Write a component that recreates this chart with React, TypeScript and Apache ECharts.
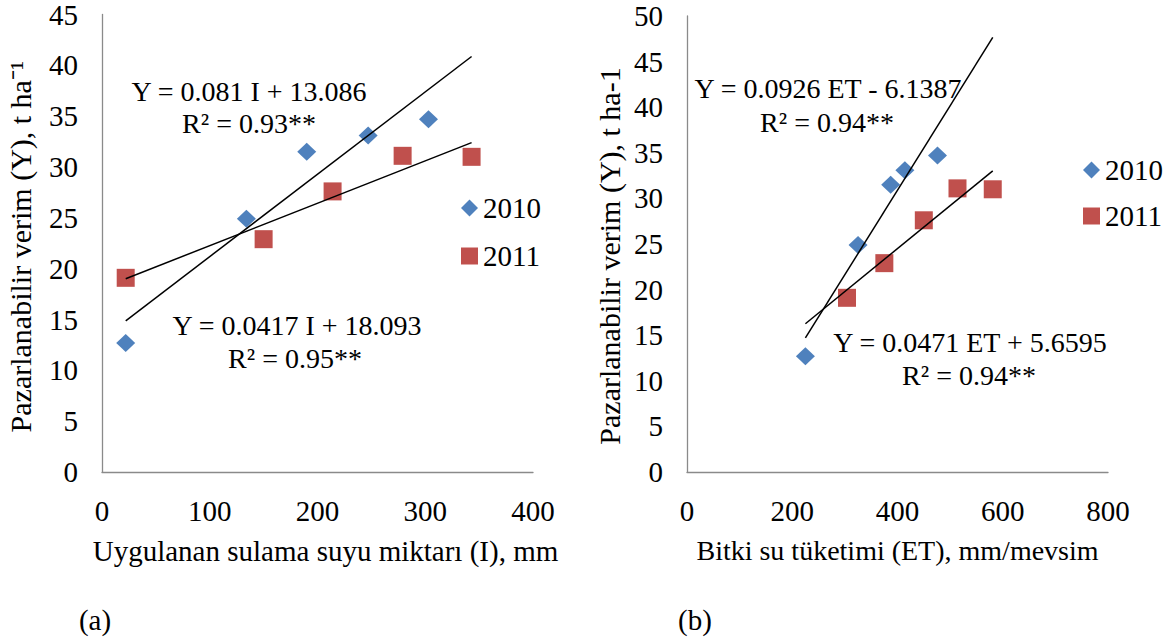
import React, { useEffect, useRef } from "react";
import * as echarts from "echarts";

// ---- data ----
const years = ["2010", "2011"];
// (a) applied irrigation water I (mm) vs marketable yield
const irr2010 = [22, 134, 190, 247, 303];
const irr2011 = [22, 150, 214, 279, 343];
// (b) crop evapotranspiration ET (mm/season)
const et2010 = [225, 325, 387, 414, 476];
const et2011 = [304, 375, 450, 514, 581];
// yields (t/ha)
const yield2010 = [12.7, 24.9, 31.5, 33.1, 34.7];
const yield2011 = [19.1, 22.9, 27.6, 31.1, 31.0];
// regression coefficients [slope, intercept]
const fitA2010 = [0.081, 13.086];
const fitA2011 = [0.0417, 18.093];
const fitB2010 = [0.0926, -6.1387];
const fitB2011 = [0.0471, 5.6595];
const eqA = ["Y = 0.081 I + 13.086", "R² = 0.93**", "Y = 0.0417 I + 18.093", "R² = 0.95**"];
const eqB = ["Y = 0.0926 ET - 6.1387", "R² = 0.94**", "Y = 0.0471 ET + 5.6595", "R² = 0.94**"];
const panelLabels = ["(a)", "(b)"];

const FONT = "Liberation Serif";
const BLUE = "#4F81BD";
const RED = "#C0504D";

function zip(xs: number[], ys: number[]) {
  return xs.map((x, i) => [x, ys[i]]);
}
function trend(fit: number[], xs: number[]) {
  const lo = Math.min(...xs);
  const hi = Math.max(...xs);
  return [
    [lo, fit[0] * lo + fit[1]],
    [hi, fit[0] * hi + fit[1]],
  ];
}

export default function App() {
  const ref = useRef<HTMLDivElement>(null);
  useEffect(() => {
    if (!ref.current) return;
    const chart = echarts.init(ref.current, null, { renderer: "svg" });
    const allA = [...irr2010, ...irr2011];
    const allB = [...et2010, ...et2011];
    const axisLine = { show: true, lineStyle: { color: "#8a8a8a", width: 1.3 } };
    const tickLabel = { color: "#000", fontFamily: FONT, fontSize: 29, margin: 24 };
    const nameStyle = { color: "#000", fontFamily: FONT, fontSize: 29 };
    const scatter = (name: string, xi: number, data: number[][], sym: string, color: string, size: any) => ({
      type: "scatter",
      name,
      xAxisIndex: xi,
      yAxisIndex: xi,
      data,
      symbol: sym,
      symbolSize: size,
      itemStyle: { color, opacity: 1 },
      z: 3,
    });
    const line = (xi: number, data: number[][]) => ({
      type: "line",
      name: "trend" + xi,
      xAxisIndex: xi,
      yAxisIndex: xi,
      data,
      showSymbol: false,
      symbol: "none",
      silent: true,
      lineStyle: { color: "#000", width: 1.5 },
      z: 4,
    });
    const legend = (left: number, top: number, gap: number) => ({
      orient: "vertical",
      left,
      top,
      padding: 0,
      itemWidth: 17,
      itemHeight: 17,
      itemGap: gap,
      textStyle: { color: "#000", fontFamily: FONT, fontSize: 29, lineHeight: 30, padding: [4, 0, 0, 0] },
      data: [
        { name: years[0], icon: "diamond", itemStyle: { color: BLUE, opacity: 1 } },
        { name: years[1], icon: "rect", itemStyle: { color: RED, opacity: 1 } },
      ],
    });
    const eqText = (text: string, x: number, y: number, size = 28) => ({
      type: "text",
      x,
      y,
      style: {
        text,
        fontFamily: FONT,
        fontSize: size,
        fill: "#000",
        textAlign: "center",
        textVerticalAlign: "middle",
      },
    });
    chart.setOption({
      animation: false,
      backgroundColor: "#fff",
      grid: [
        { left: 102, top: 14, width: 431, height: 458 },
        { left: 687, top: 16, width: 421, height: 456 },
      ],
      xAxis: [
        {
          type: "value",
          gridIndex: 0,
          min: 0,
          max: 400,
          interval: 100,
          axisLine,
          axisTick: { show: false },
          splitLine: { show: false },
          axisLabel: tickLabel,
          name: "Uygulanan sulama suyu miktarı (I), mm",
          nameLocation: "middle",
          nameGap: 64,
          nameTextStyle: { ...nameStyle, padding: [0, 0, 0, 16] },
        },
        {
          type: "value",
          gridIndex: 1,
          min: 0,
          max: 800,
          interval: 200,
          axisLine,
          axisTick: { show: false },
          splitLine: { show: false },
          axisLabel: tickLabel,
          name: "Bitki su tüketimi (ET), mm/mevsim",
          nameLocation: "middle",
          nameGap: 64,
          nameTextStyle: { ...nameStyle, fontSize: 28 },
        },
      ],
      yAxis: [
        {
          type: "value",
          gridIndex: 0,
          min: 0,
          max: 45,
          interval: 5,
          axisLine,
          axisTick: { show: false },
          splitLine: { show: false },
          axisLabel: tickLabel,
          name: "Pazarlanabilir verim (Y), t ha⁻¹",
          nameLocation: "middle",
          nameRotate: 90,
          nameGap: 67,
          nameTextStyle: { ...nameStyle, fontSize: 30, padding: [0, 7, 0, 0] },
        },
        {
          type: "value",
          gridIndex: 1,
          min: 0,
          max: 50,
          interval: 5,
          axisLine,
          axisTick: { show: false },
          splitLine: { show: false },
          axisLabel: tickLabel,
          name: "Pazarlanabilir verim (Y), t ha-1",
          nameLocation: "middle",
          nameRotate: 90,
          nameGap: 63,
          nameTextStyle: { ...nameStyle, fontSize: 30, padding: [0, 24, 0, 0] },
        },
      ],
      legend: [legend(461, 191, 14), legend(1083, 153, 12)],
      series: [
        scatter(years[0], 0, zip(irr2010, yield2010), "diamond", BLUE, [19, 18]),
        scatter(years[1], 0, zip(irr2011, yield2011), "rect", RED, [18, 18]),
        line(0, trend(fitA2010, allA)),
        line(0, trend(fitA2011, allA)),
        scatter(years[0], 1, zip(et2010, yield2010), "diamond", BLUE, [19, 18]),
        scatter(years[1], 1, zip(et2011, yield2011), "rect", RED, [18, 18]),
        line(1, trend(fitB2010, allB)),
        line(1, trend(fitB2011, allB)),
      ],
      graphic: [
        eqText(eqA[0], 249, 91),
        eqText(eqA[1], 249, 123),
        eqText(eqA[2], 297, 325),
        eqText(eqA[3], 295, 358),
        eqText(eqB[0], 828, 88),
        eqText(eqB[1], 827, 122),
        eqText(eqB[2], 970, 342),
        eqText(eqB[3], 969, 375),
        eqText(panelLabels[0], 95, 620, 29),
        eqText(panelLabels[1], 695, 620, 29),
      ],
    });
    return () => chart.dispose();
  }, []);
  return (
    <div
      ref={ref}
      style={{ position: "absolute", left: 0, top: 0, width: 1175, height: 643, background: "#fff" }}
    />
  );
}
